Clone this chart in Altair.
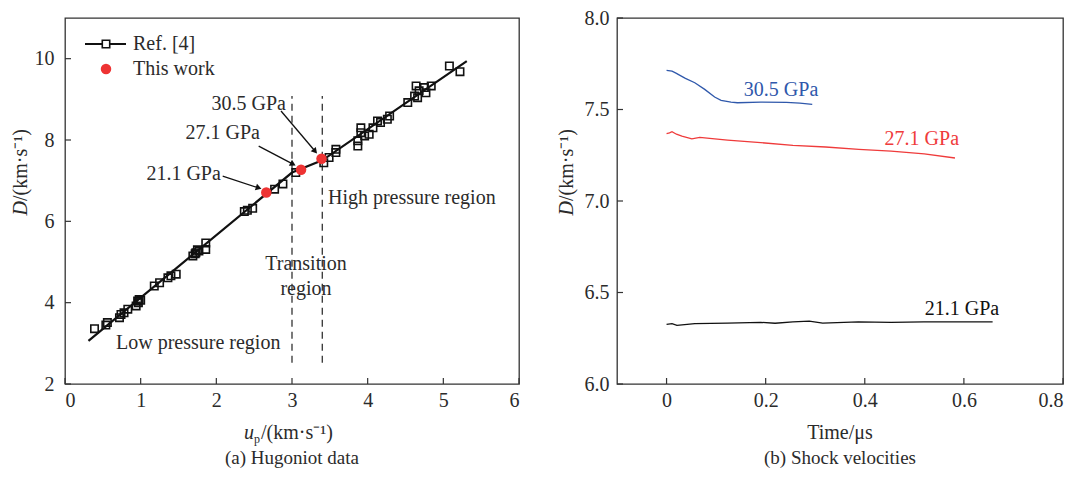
import math
import altair as alt
import pandas as pd

FONT = "Liberation Serif"
TXT = "#2b2b2b"
FS = 20

# ---------------- Panel (a): Hugoniot data ----------------
ref_up = [0.39, 0.54, 0.56, 0.72, 0.74, 0.78, 0.83, 0.94, 0.96, 0.97, 0.98, 1.00,
          1.18, 1.25, 1.36, 1.40, 1.47, 1.69, 1.72, 1.73, 1.75, 1.77, 1.86, 1.86,
          2.37, 2.41, 2.48, 2.77, 2.88, 3.05, 3.42, 3.49, 3.58, 3.58,
          3.87, 3.87, 3.91, 3.91, 3.96, 4.02, 4.07, 4.13, 4.17, 4.26, 4.29,
          4.53, 4.62, 4.64, 4.66, 4.68, 4.75, 4.77, 4.84, 5.08, 5.22]
ref_D = [3.36, 3.45, 3.51, 3.63, 3.71, 3.75, 3.84, 3.92, 4.04, 4.00, 4.08, 4.06,
         4.41, 4.49, 4.61, 4.66, 4.70, 5.15, 5.20, 5.23, 5.30, 5.27, 5.31, 5.47,
         6.24, 6.27, 6.32, 6.79, 6.92, 7.20, 7.44, 7.57, 7.69, 7.77,
         7.85, 7.98, 8.18, 8.30, 8.10, 8.14, 8.30, 8.47, 8.43, 8.51, 8.59,
         8.92, 9.08, 9.33, 9.04, 9.21, 9.29, 9.16, 9.33, 9.82, 9.68]

fit_up = [0.31, 3.00, 3.40, 5.31]
fit_D = [3.06, 7.20, 7.50, 9.94]

work_up = [2.66, 3.12, 3.39]
work_D = [6.71, 7.27, 7.54]
work_label = ["21.1 GPa", "27.1 GPa", "30.5 GPa"]

# annotation labels and arrows (data coordinates)
lab_up = [2.06, 2.577, 2.92]
lab_D = [7.16, 8.17, 8.885]
arr_up0 = [2.084, 2.56, 2.855]
arr_D0 = [7.11, 7.85, 8.713]
arr_up1 = [2.61, 3.06, 3.34]
arr_D1 = [6.79, 7.36, 7.648]

boundary_up = [3.0, 3.4]
boundary_D0 = 2.52
boundary_D1 = 9.08

region_left_text = ["High pressure region", "Low pressure region"]
region_left_up = [3.475, 0.674]
region_left_D = [6.57, 3.01]
region_center_text = ["Transition", "region"]
region_center_up = [3.185, 3.185]
region_center_D = [4.95, 4.34]

ax_xticks = [0, 1, 2, 3, 4, 5, 6]
ax_yticks = [2, 4, 6, 8, 10]

# ---------------- Panel (b): Shock velocities ----------------
t_305 = [0, 0.011, 0.018, 0.038, 0.057, 0.077, 0.097, 0.11, 0.13, 0.143, 0.19, 0.242, 0.269, 0.294]
D_305 = [7.714, 7.710, 7.700, 7.670, 7.646, 7.610, 7.568, 7.550, 7.540, 7.537, 7.540, 7.539, 7.535, 7.528]
t_271 = [0, 0.006, 0.011, 0.02, 0.031, 0.051, 0.067, 0.087, 0.123, 0.19, 0.255, 0.321, 0.388, 0.453, 0.52, 0.582]
D_271 = [7.368, 7.372, 7.379, 7.365, 7.355, 7.340, 7.348, 7.342, 7.333, 7.319, 7.304, 7.295, 7.282, 7.273, 7.258, 7.235]
t_211 = [0, 0.011, 0.021, 0.057, 0.123, 0.19, 0.219, 0.255, 0.288, 0.315, 0.387, 0.453, 0.519, 0.585, 0.658]
D_211 = [6.326, 6.330, 6.320, 6.330, 6.333, 6.337, 6.332, 6.339, 6.344, 6.333, 6.339, 6.337, 6.339, 6.340, 6.339]

series_names = ["30.5 GPa", "27.1 GPa", "21.1 GPa"]
series_colors = ["#2f58ab", "#ef3b3b", "#111111"]
b_lab_t = [0.156, 0.44, 0.521]
b_lab_D = [7.607, 7.34, 6.41]

bx_ticks = [0, 0.2, 0.4, 0.6, 0.8]
by_ticks = [6.0, 6.5, 7.0, 7.5, 8.0]

WA, WB, H = 454, 446, 366
GAP = 98
TICK = 6
TITLE_Y = 421
CAP_Y = 446

# ============ build panel (a) ============
xa = alt.Scale(domain=[0, 6], nice=False)
ya = alt.Scale(domain=[2, 11], nice=False)
kx = WA / 6.0
ky = H / 9.0
axXa = alt.Axis(values=ax_xticks, format="d", title=None, labelPadding=6)
axYa = alt.Axis(values=ax_yticks, format="d", title=None, labelPadding=11)


def XA(f):
    return alt.X(f, scale=xa, axis=axXa)


def YA(f):
    return alt.Y(f, scale=ya, axis=axYa)


def txt(s, x, y, **kw):
    props = dict(font=FONT, fontSize=FS, color=TXT)
    props.update(kw)
    return alt.Chart(pd.DataFrame({"t": [s]})).mark_text(**props).encode(
        x=alt.value(x), y=alt.value(y), text="t:N")


ref_df = pd.DataFrame({"up": ref_up, "D": ref_D})
fit_df = pd.DataFrame({"up": fit_up, "D": fit_D})
work_df = pd.DataFrame({"up": work_up, "D": work_D, "label": work_label})

fit_line = alt.Chart(fit_df).mark_line(color="#111111", strokeWidth=2.2).encode(
    x=XA("up:Q"), y=YA("D:Q"))
ref_pts = alt.Chart(ref_df).mark_point(shape="square", filled=False, color="#111111",
                                       strokeWidth=1.6, size=55, opacity=1).encode(
    x=XA("up:Q"), y=YA("D:Q"))
work_pts = alt.Chart(work_df).mark_circle(color="#ee3333", size=110, opacity=1).encode(
    x=XA("up:Q"), y=YA("D:Q"))

bnd_df = pd.DataFrame({"up": boundary_up, "D0": [boundary_D0] * 2, "D1": [boundary_D1] * 2})
bnd = alt.Chart(bnd_df).mark_rule(color="#222222", strokeWidth=1.2, strokeDash=[7, 5]).encode(
    x=XA("up:Q"), y=YA("D0:Q"), y2="D1:Q")

# arrows
shaft_rows, head_rows = [], []
for a0, b0, a1, b1 in zip(arr_up0, arr_D0, arr_up1, arr_D1):
    dx = (a1 - a0) * kx
    dy = -(b1 - b0) * ky
    L = math.hypot(dx, dy)
    ux, uy = dx / L, dy / L
    back = 4.0
    hx = a1 - ux * back / kx
    hy = b1 + uy * back / ky
    ang = math.degrees(math.atan2(dx, -dy)) % 360
    shaft_rows.append({"up": a0, "D": b0, "u1": hx, "d1": hy})
    head_rows.append({"up": hx, "D": hy, "ang": ang})
shaft = alt.Chart(pd.DataFrame(shaft_rows)).mark_rule(color="#111111", strokeWidth=1.3).encode(
    x=XA("up:Q"), y=YA("D:Q"), x2="u1:Q", y2="d1:Q")
heads = alt.Chart(pd.DataFrame(head_rows)).mark_point(shape="triangle-up", filled=True, color="#111111",
                                                      size=45, opacity=1).encode(
    x=XA("up:Q"), y=YA("D:Q"), angle=alt.Angle("ang:Q", scale=None))

lab_df = pd.DataFrame({"up": lab_up, "D": lab_D, "t": work_label})
labs = alt.Chart(lab_df).mark_text(align="right", baseline="middle", font=FONT, fontSize=FS, color=TXT).encode(
    x=XA("up:Q"), y=YA("D:Q"), text="t:N")

regL = alt.Chart(pd.DataFrame({"up": region_left_up, "D": region_left_D, "t": region_left_text})).mark_text(
    align="left", baseline="middle", font=FONT, fontSize=FS, color=TXT).encode(
    x=XA("up:Q"), y=YA("D:Q"), text="t:N")
regC = alt.Chart(pd.DataFrame({"up": region_center_up, "D": region_center_D, "t": region_center_text})).mark_text(
    align="center", baseline="middle", font=FONT, fontSize=FS, color=TXT).encode(
    x=XA("up:Q"), y=YA("D:Q"), text="t:N")

# inward ticks
xt_a = alt.Chart(pd.DataFrame({"up": ax_xticks})).mark_rule(color="#333333", strokeWidth=1.2).encode(
    x=XA("up:Q"), y=alt.value(H), y2=alt.value(H - TICK))
yt_a = alt.Chart(pd.DataFrame({"D": ax_yticks})).mark_rule(color="#333333", strokeWidth=1.2).encode(
    y=YA("D:Q"), x=alt.value(0), x2=alt.value(TICK))

# legend
one = pd.DataFrame({"k": [0]})
leg_line = alt.Chart(one).mark_rule(color="#111111", strokeWidth=2.2).encode(
    x=alt.value(20), x2=alt.value(61), y=alt.value(26))
leg_sq = alt.Chart(one).mark_point(shape="square", filled=True, fill="white", stroke="#111111",
                                   strokeWidth=1.6, size=55, opacity=1).encode(
    x=alt.value(41), y=alt.value(26))
leg_dot = alt.Chart(one).mark_circle(color="#ee3333", size=110, opacity=1).encode(
    x=alt.value(41), y=alt.value(51))
leg_t1 = txt("Ref. [4]", 68, 26, align="left", baseline="middle")
leg_t2 = txt("This work", 68, 51, align="left", baseline="middle")

# axis titles / caption (a)
yt_D = txt("D", -44, 183, align="right", baseline="middle", angle=270, fontStyle="italic")
yt_rest = txt("/(km·s⁻¹)", -44, 183, align="left", baseline="middle", angle=270)
xt_u = txt("u", 189, TITLE_Y, align="right", baseline="alphabetic", fontStyle="italic")
xt_p = txt("p", 189, TITLE_Y + 4, align="left", baseline="alphabetic", fontSize=12)
xt_rest = txt("/(km·s⁻¹)", 196, TITLE_Y, align="left", baseline="alphabetic")
cap_a = txt("(a) Hugoniot data", WA / 2, CAP_Y, align="center", baseline="alphabetic", fontSize=19)

panel_a = alt.layer(fit_line, bnd, shaft, heads, ref_pts, work_pts, labs, regL, regC,
                    xt_a, yt_a, leg_line, leg_sq, leg_dot, leg_t1, leg_t2,
                    yt_D, yt_rest, xt_u, xt_p, xt_rest, cap_a).properties(width=WA, height=H)

# ============ build panel (b) ============
xb = alt.Scale(domain=[-0.1, 0.8], nice=False)
yb = alt.Scale(domain=[6.0, 8.0], nice=False)
cscale = alt.Scale(domain=series_names, range=series_colors)
axXb = alt.Axis(values=bx_ticks, title=None, labelPadding=6,
                labelExpr="datum.value == 0 ? '0' : format(datum.value, '.1f')")
axYb = alt.Axis(values=by_ticks, format=".1f", title=None, labelPadding=8)


def XB(f):
    return alt.X(f, scale=xb, axis=axXb)


def YB(f):
    return alt.Y(f, scale=yb, axis=axYb)


rows = []
for name, ts, ds in zip(series_names, [t_305, t_271, t_211], [D_305, D_271, D_211]):
    for i, (t, d) in enumerate(zip(ts, ds)):
        rows.append({"series": name, "t": t, "D": d, "i": i})
b_df = pd.DataFrame(rows)

lines_b = alt.Chart(b_df).mark_line(strokeWidth=1.3).encode(
    x=XB("t:Q"), y=YB("D:Q"),
    color=alt.Color("series:N", scale=cscale, legend=None),
    detail="series:N", order="i:Q")
blab = alt.Chart(pd.DataFrame({"series": series_names, "t": b_lab_t, "D": b_lab_D})).mark_text(
    align="left", baseline="middle", font=FONT, fontSize=FS).encode(
    x=XB("t:Q"), y=YB("D:Q"),
    text="series:N", color=alt.Color("series:N", scale=cscale, legend=None))
xt_b = alt.Chart(pd.DataFrame({"t": bx_ticks})).mark_rule(color="#333333", strokeWidth=1.2).encode(
    x=XB("t:Q"), y=alt.value(H), y2=alt.value(H - TICK))
yt_b = alt.Chart(pd.DataFrame({"D": by_ticks})).mark_rule(color="#333333", strokeWidth=1.2).encode(
    y=YB("D:Q"), x=alt.value(0), x2=alt.value(TICK))

ybD = txt("D", -50, 183, align="right", baseline="middle", angle=270, fontStyle="italic")
ybrest = txt("/(km·s⁻¹)", -50, 183, align="left", baseline="middle", angle=270)
xbt = txt("Time/μs", WB / 2, TITLE_Y, align="center", baseline="alphabetic")
cap_b = txt("(b) Shock velocities", WB / 2, CAP_Y, align="center", baseline="alphabetic", fontSize=19)

panel_b = alt.layer(lines_b, blab, xt_b, yt_b, ybD, ybrest, xbt, cap_b).properties(width=WB, height=H)

chart = alt.hconcat(panel_a, panel_b, spacing=GAP, bounds="flush").properties(
    padding={"left": 2, "top": -1, "right": 0, "bottom": 0},
    background="white",
).configure_view(stroke="#333333", strokeWidth=1.3).configure_axis(
    grid=False, ticks=False, tickSize=0, domain=False,
    labelFont=FONT, labelFontSize=FS, labelColor=TXT,
)

chart.save("out.html", embed_options={"renderer": "svg", "actions": False})
